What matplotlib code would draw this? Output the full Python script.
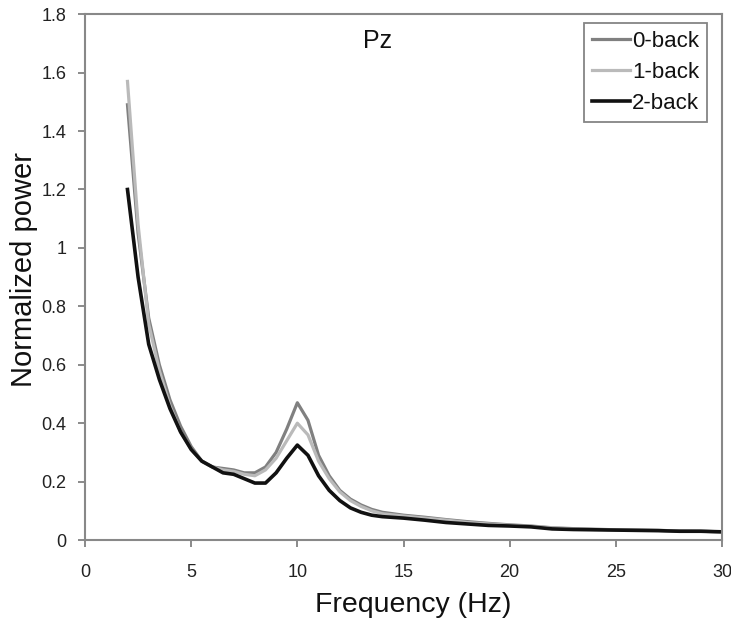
import matplotlib
matplotlib.use("Agg")
import matplotlib.pyplot as plt
import numpy as np

plt.rcParams['font.family'] = ['Liberation Sans', 'DejaVu Sans']

freq = [2, 2.5, 3, 3.5, 4, 4.5, 5, 5.5, 6, 6.5, 7, 7.5, 8, 8.5, 9, 9.5, 10, 10.5, 11, 11.5,
        12, 12.5, 13, 13.5, 14, 15, 16, 17, 18, 19, 20, 21, 22, 23, 24, 25, 26, 27, 28, 29, 30]
back0 = [1.49, 1.05, 0.76, 0.60, 0.48, 0.39, 0.32, 0.27, 0.25, 0.245, 0.24, 0.23, 0.23, 0.25, 0.30, 0.38,
         0.47, 0.41, 0.29, 0.22, 0.17, 0.14, 0.12, 0.105, 0.095, 0.085, 0.078, 0.07, 0.063, 0.057, 0.052,
         0.048, 0.042, 0.039, 0.037, 0.035, 0.034, 0.033, 0.031, 0.030, 0.028]
back1 = [1.57, 1.08, 0.74, 0.58, 0.46, 0.37, 0.31, 0.27, 0.25, 0.24, 0.235, 0.225, 0.22, 0.24, 0.28, 0.34,
         0.40, 0.36, 0.27, 0.21, 0.165, 0.135, 0.115, 0.10, 0.09, 0.082, 0.075, 0.068, 0.06, 0.055, 0.05,
         0.047, 0.041, 0.038, 0.036, 0.035, 0.034, 0.033, 0.031, 0.030, 0.028]
back2 = [1.20, 0.90, 0.67, 0.55, 0.45, 0.37, 0.31, 0.27, 0.25, 0.23, 0.225, 0.21, 0.195, 0.195, 0.23, 0.28,
         0.325, 0.29, 0.22, 0.17, 0.135, 0.11, 0.095, 0.085, 0.08, 0.075, 0.068, 0.06, 0.055, 0.05, 0.048,
         0.045, 0.038, 0.036, 0.035, 0.034, 0.033, 0.032, 0.030, 0.030, 0.028]
labels = ['0-back', '1-back', '2-back']
colors = ['#808080', '#bababa', '#111111']
widths = [2.3, 2.3, 2.6]

fig = plt.figure(figsize=(7.31, 6.19), dpi=100)
ax = fig.add_axes([0.1163, 0.1276, 0.8714, 0.8494])
for y, lab, c, w in zip([back0, back1, back2], labels, colors, widths):
    ax.plot(freq, y, color=c, lw=w, label=lab)

ax.set_xlim(0, 30)
ax.set_ylim(0, 1.8)
ax.set_xticks(np.arange(0, 31, 5))
yt = np.round(np.arange(0, 1.81, 0.2), 1)
ax.set_yticks(yt)
ax.set_yticklabels([f"{v:g}" for v in yt])
ax.tick_params(direction='out', length=5, width=1.2, colors='#777777', labelcolor='#222222',
               labelsize=13)
ax.tick_params(axis='x', pad=12)
ax.tick_params(axis='y', pad=8.5)
for s in ax.spines.values():
    s.set_color('#888888')
    s.set_linewidth(1.5)
ax.set_xlabel('Frequency (Hz)', fontsize=20.5, color='#111111')
ax.set_ylabel('Normalized power', fontsize=21, color='#111111')
ax.xaxis.set_label_coords(0.515, -0.099)
ax.yaxis.set_label_coords(-0.074, 0.515)
ax.text(13.8, 1.71, 'Pz', fontsize=18, ha='center', va='center', color='#111111')
leg = ax.legend(loc='upper right', bbox_to_anchor=(0.9765, 0.983), fontsize=16, frameon=True,
                fancybox=False, edgecolor='#666666', handlelength=1.7, handletextpad=0.1,
                borderpad=0.35, labelspacing=0.45, borderaxespad=0)
leg.get_frame().set_linewidth(1.3)
for t in leg.get_texts():
    t.set_color('#111111')
fig.savefig('out.png', dpi=100)
